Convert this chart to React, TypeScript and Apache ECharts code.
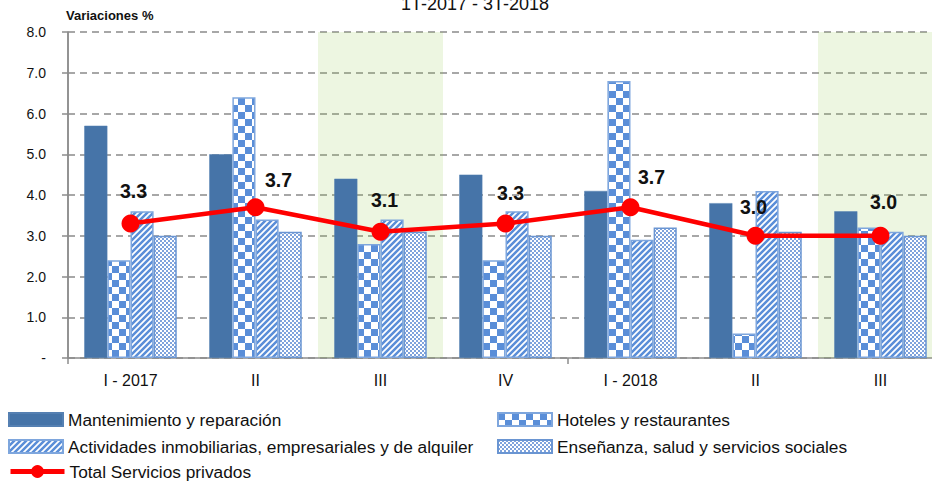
import React, { useEffect, useRef } from 'react';
import * as echarts from 'echarts';

const categories = ['I - 2017', 'II', 'III', 'IV', 'I - 2018', 'II', 'III'];
const mantenimiento = [5.7, 5.0, 4.4, 4.5, 4.1, 3.8, 3.6];
const hoteles = [2.4, 6.4, 2.8, 2.4, 6.8, 0.6, 3.2];
const actividades = [3.6, 3.4, 3.4, 3.6, 2.9, 4.1, 3.1];
const ensenanza = [3.0, 3.1, 3.1, 3.0, 3.2, 3.1, 3.0];
const total = [3.3, 3.7, 3.1, 3.3, 3.7, 3.0, 3.0];
const seriesNames = [
  'Mantenimiento y reparación',
  'Hoteles y restaurantes',
  'Actividades inmobiliarias, empresariales y de alquiler',
  'Enseñanza, salud y servicios sociales',
  'Total Servicios privados',
];
// label offsets (style), index-aligned with total
const labelOffsets = [[3, -33], [23, -27], [4, -32], [5, -31], [21, -30], [-2, -29], [3, -34]];
// shaded category spans (in category units)
const shadedBands = [[2, 3], [6, 7]];

const FONT = '"Liberation Sans", Arial, sans-serif';

function makeChecker(s: number, color: string) {
  const c = document.createElement('canvas');
  c.width = s * 2;
  c.height = s * 2;
  const ctx = c.getContext('2d')!;
  ctx.fillStyle = '#ffffff';
  ctx.fillRect(0, 0, s * 2, s * 2);
  ctx.fillStyle = color;
  ctx.fillRect(0, 0, s, s);
  ctx.fillRect(s, s, s, s);
  return c;
}

function makeStripes(p: number, color: string, lw: number) {
  const c = document.createElement('canvas');
  c.width = p;
  c.height = p;
  const ctx = c.getContext('2d')!;
  ctx.fillStyle = '#ffffff';
  ctx.fillRect(0, 0, p, p);
  ctx.strokeStyle = color;
  ctx.lineWidth = lw;
  ctx.beginPath();
  ctx.moveTo(-2, 2);
  ctx.lineTo(2, -2);
  ctx.moveTo(-1, p + 1);
  ctx.lineTo(p + 1, -1);
  ctx.moveTo(p - 2, p + 2);
  ctx.lineTo(p + 2, p - 2);
  ctx.stroke();
  return c;
}

export default function App() {
  const ref = useRef<HTMLDivElement>(null);
  useEffect(() => {
    document.body.style.margin = '0';
    const chart = echarts.init(ref.current!, null, { renderer: 'svg' });
    const checker = { image: makeChecker(7, '#5A8ED8'), repeat: 'repeat' };
    const stripes = { image: makeStripes(6, '#5A8ED8', 2.5), repeat: 'repeat' };
    const dots = { image: makeChecker(2, '#7FA3DC'), repeat: 'repeat' };

    const barBase = {
      type: 'bar',
      barGap: '0%',
      barCategoryGap: '26%',
      xAxisIndex: 0,
      yAxisIndex: 0,
      z: 2,
    };

    const legendPos = [
      { left: 8, top: 411 },
      { left: 497, top: 411 },
      { left: 8, top: 438 },
      { left: 497, top: 438 },
      { left: 8, top: 463 },
    ];

    const option: any = {
      animation: false,
      textStyle: { fontFamily: FONT },
      grid: { left: 68, top: 32, width: 875, height: 326, containLabel: false },
      xAxis: [
        {
          type: 'category',
          data: categories,
          boundaryGap: true,
          axisLine: { show: true, lineStyle: { color: '#8c8c8c', width: 1.5 } },
          axisTick: {
            show: true,
            length: 6,
            interval: (i: number) => i === 0 || i === 4,
            lineStyle: { color: '#8c8c8c', width: 1.5 },
          },
          splitLine: {
            show: true,
            interval: (i: number) => i === 4,
            lineStyle: { color: '#8c8c8c', width: 1.5, type: 'solid' },
          },
          axisLabel: { color: '#111', fontSize: 16, margin: 14, fontFamily: FONT },
        },
        { type: 'value', min: 0, max: 7, show: false, position: 'top' },
      ],
      yAxis: {
        type: 'value',
        min: 0,
        max: 8,
        interval: 1,
        axisLine: { show: true, lineStyle: { color: '#8c8c8c', width: 1.5 } },
        axisTick: { show: true, length: 6, lineStyle: { color: '#8c8c8c', width: 1.5 } },
        splitLine: { show: true, lineStyle: { color: '#8a8a8a', width: 1.5, type: [7, 5] } },
        axisLabel: {
          color: '#111',
          fontSize: 14,
          margin: 22,
          fontFamily: FONT,
          formatter: (v: number) => (v === 0 ? '-' : v.toFixed(1)),
        },
      },
      graphic: [
        {
          type: 'text',
          x: 475,
          y: 4,
          style: { text: '1T-2017 - 3T-2018', fontSize: 18, fontFamily: FONT, fill: '#111', align: 'center', verticalAlign: 'middle' },
        },
        {
          type: 'text',
          x: 66,
          y: 15,
          style: { text: 'Variaciones %', fontSize: 13, fontWeight: 'bold', fontFamily: FONT, fill: '#111', align: 'left', verticalAlign: 'middle' },
        },
      ],
      legend: seriesNames.map((n, i) => ({
        data: [n],
        left: legendPos[i].left,
        top: legendPos[i].top,
        padding: 0,
        itemWidth: 54,
        itemHeight: i < 4 ? 13 : 16,
        icon: i < 4 ? 'rect' : undefined,
        selectedMode: false,
        lineStyle: i < 4 ? undefined : { width: 5 },
        textStyle: { fontSize: 17.3, color: '#111', fontFamily: FONT },
      })),
      series: [
        { ...barBase, name: seriesNames[0], data: mantenimiento, itemStyle: { color: '#4674A8', borderColor: '#5580B2', borderWidth: 0.5 } },
        { ...barBase, name: seriesNames[1], data: hoteles, itemStyle: { color: checker, borderColor: '#7EA6DD', borderWidth: 1.5 } },
        { ...barBase, name: seriesNames[2], data: actividades, itemStyle: { color: stripes, borderColor: '#7EA6DD', borderWidth: 1.5 } },
        { ...barBase, name: seriesNames[3], data: ensenanza, itemStyle: { color: dots, borderColor: '#6A95D2', borderWidth: 1.5 } },
        {
          type: 'line',
          name: seriesNames[4],
          xAxisIndex: 0,
          yAxisIndex: 0,
          z: 5,
          data: total.map((v, i) => ({ value: v, label: { offset: labelOffsets[i] } })),
          symbol: 'circle',
          symbolSize: 18,
          lineStyle: { color: '#FF0000', width: 4.5 },
          itemStyle: { color: '#FF0000' },
          label: {
            show: true,
            position: 'inside',
            fontSize: 19.5,
            fontWeight: 'bold',
            color: '#111',
            fontFamily: FONT,
            formatter: (p: any) => Number(p.value).toFixed(1),
          },
        },
        {
          type: 'scatter',
          name: 'shade',
          xAxisIndex: 1,
          yAxisIndex: 0,
          data: [],
          z: 10,
          silent: true,
          markArea: {
            silent: true,
            itemStyle: { color: 'rgba(146,200,70,0.16)' },
            data: shadedBands.map(([a, b]) => [{ xAxis: a }, { xAxis: b }]),
          },
        },
      ],
    };
    chart.setOption(option);
    return () => chart.dispose();
  }, []);
  return (
    <div style={{ width: 932, height: 484, overflow: 'hidden', position: 'relative' }}>
      <div ref={ref} style={{ width: 960, height: 484 }} />
    </div>
  );
}
